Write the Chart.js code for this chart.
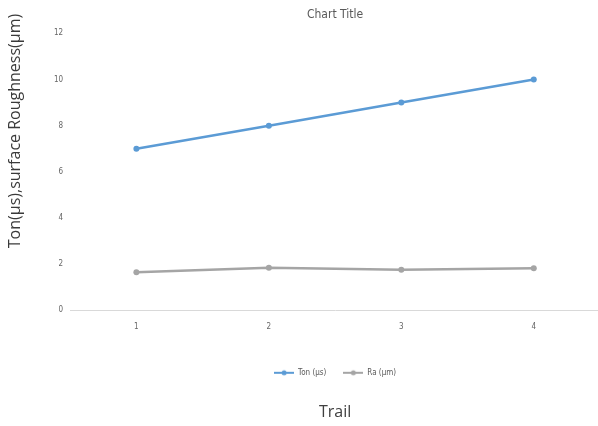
<!DOCTYPE html>
<html lang="en">
<head>
  <meta charset="UTF-8">
  <title>Ton and surface roughness per trail</title>
  <script src="https://cdn.jsdelivr.net/npm/chart.js"></script>
  <style>
    html, body {
      margin: 0;
      padding: 0;
      background: #fff;
      overflow: hidden;
    }

    .chart-box {
      position: relative;
      width: 604px;
      height: 426px;
    }
  </style>
</head>
<body>
  <div class="chart-box">
    <canvas id="graficoTrail"></canvas>
  </div>

  <script>
    const trails = ['1', '2', '3', '4'];
    const tonValues = [7, 8, 9, 10];
    const raValues = [1.65, 1.84, 1.75, 1.82];
    const yTicks = [0, 2, 4, 6, 8, 10, 12];

    const yTitle = 'Ton(\u00b5s),surface Roughness(\u00b5m)';
    const narrowFont = '"Liberation Sans Narrow", "DejaVu Sans Condensed", "Liberation Sans", sans-serif';

    // little line + dot marker for the legend
    function marcador(cor) {
      const c = document.createElement('canvas');
      c.width = 20;
      c.height = 8;
      const g = c.getContext('2d');
      g.strokeStyle = cor;
      g.lineWidth = 2;
      g.beginPath();
      g.moveTo(0, 4);
      g.lineTo(20, 4);
      g.stroke();
      g.fillStyle = cor;
      g.beginPath();
      g.arc(10, 4, 2.5, 0, Math.PI * 2);
      g.fill();
      return c;
    }

    // vertical axis caption drawn off to the left
    const yAxisCaption = {
      id: 'yAxisCaption',
      afterDraw(chart) {
        const ctx = chart.ctx;
        ctx.save();
        ctx.translate(15, 131);
        ctx.rotate(-Math.PI / 2);
        ctx.font = '16px "Open Sans", "DejaVu Sans", sans-serif';
        ctx.fillStyle = '#3a3a3a';
        ctx.textAlign = 'center';
        ctx.textBaseline = 'middle';
        ctx.fillText(yTitle, 0, 0);
        ctx.restore();
      }
    };

    const ctx = document.getElementById('graficoTrail').getContext('2d');
    new Chart(ctx, {
      type: 'line',
      data: {
        labels: trails,
        datasets: [{
          label: 'Ton (\u00b5s)',
          data: tonValues,
          borderColor: '#5b9bd5',
          backgroundColor: '#5b9bd5',
          borderWidth: 2.5,
          pointRadius: 3,
          pointBorderWidth: 0,
          tension: 0
        }, {
          label: 'Ra (\u00b5m)',
          data: raValues,
          borderColor: '#a5a5a5',
          backgroundColor: '#a5a5a5',
          borderWidth: 2.5,
          pointRadius: 3,
          pointBorderWidth: 0,
          tension: 0
        }]
      },
      options: {
        responsive: true,
        maintainAspectRatio: false,
        animation: false,
        layout: {
          padding: { left: 47, right: 2.5, top: 0, bottom: 0 }
        },
        scales: {
          x: {
            offset: true,
            grid: { display: false, drawTicks: false },
            border: { display: true, color: '#d9d9d9', width: 1 },
            ticks: {
              padding: 12,
              color: '#666',
              font: { family: narrowFont, size: 8 }
            },
            afterFit(scale) {
              scale.height += 8;
            }
          },
          y: {
            min: 0,
            max: 12,
            afterBuildTicks(scale) {
              scale.ticks = yTicks.map(v => ({ value: v }));
            },
            grid: { display: false, drawTicks: false },
            border: { display: false },
            ticks: {
              padding: 7,
              color: '#666',
              font: { family: narrowFont, size: 8 }
            }
          }
        },
        plugins: {
          subtitle: {
            display: true,
            position: 'top',
            fullSize: false,
            text: 'Chart Title',
            color: '#595959',
            font: { family: narrowFont, size: 12, weight: 'normal' },
            padding: { top: 8, bottom: 11 }
          },
          title: {
            display: true,
            position: 'bottom',
            fullSize: false,
            text: 'Trail',
            color: '#404040',
            font: { family: '"Open Sans", "DejaVu Sans", sans-serif', size: 16, weight: 'normal' },
            padding: { top: 16, bottom: 4 }
          },
          legend: {
            position: 'bottom',
            fullSize: false,
            labels: {
              usePointStyle: true,
              pointStyleWidth: 20,
              padding: 17,
              color: '#595959',
              font: { family: narrowFont, size: 8 },
              generateLabels(chart) {
                const itens = Chart.defaults.plugins.legend.labels.generateLabels(chart);
                itens.forEach(it => {
                  it.pointStyle = marcador(chart.data.datasets[it.datasetIndex].borderColor);
                });
                return itens;
              }
            }
          },
          tooltip: { enabled: false }
        }
      },
      plugins: [yAxisCaption]
    });
  </script>
</body>
</html>
